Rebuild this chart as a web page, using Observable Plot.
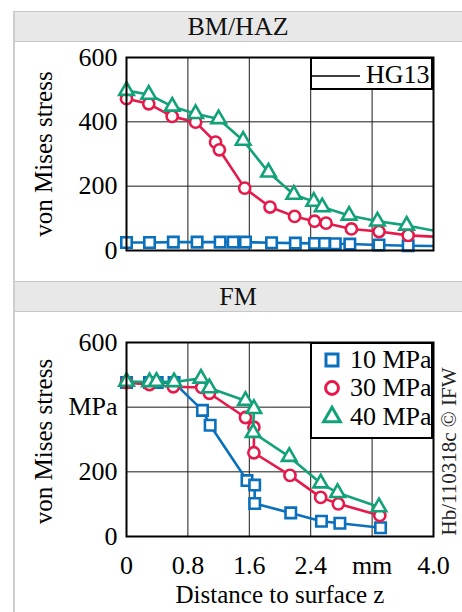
<!DOCTYPE html>
<html>
<head>
<meta charset="utf-8">
<script src="https://cdn.jsdelivr.net/npm/d3@7"></script>
<script src="https://cdn.jsdelivr.net/npm/@observablehq/plot@0.6"></script>
<style>
  html, body { margin: 0; padding: 0; background: white; }
  #page { position: relative; width: 462px; height: 612px; overflow: hidden; font-family: 'Liberation Serif', 'Times New Roman', serif; color: black; }
  .strip { position: absolute; left: 14px; right: 0; height: 29px; background: #e8e8e8; border-top: 1px solid #c8c8c8; border-bottom: 1px solid #c8c8c8; text-align: center; font-family: 'Liberation Serif', serif; font-size: 26px; line-height: 29px; color: #111; z-index: 2; }
  .vborder { position: absolute; left: 13px; width: 2px; top: 11px; bottom: 0; background: #cdcdcd; z-index: 3; }
  .plotbox { position: absolute; left: 0; width: 462px; z-index: 1; }
  .legend { position: absolute; border: 2px solid black; box-sizing: border-box; background: white; overflow: hidden; z-index: 4; font-family: 'Liberation Serif', serif; font-size: 26px; }
  .legend .row { position: absolute; left: 0; right: -40px; height: 28px; }
  .legend svg { position: absolute; overflow: visible; }
  .legend .lab { position: absolute; white-space: nowrap; line-height: 28px; font-family: 'Liberation Serif', serif; }
</style>
</head>
<body>
<div id="page">
  <div class="vborder"></div>
  <div class="strip" id="strip1" style="top:11px"></div>
  <div class="plotbox" id="plot1" style="top:42px"></div>
  <div class="strip" id="strip2" style="top:281px"></div>
  <div class="plotbox" id="plot2" style="top:312px"></div>
  <div class="legend" id="legend1" style="left:310px; top:57px; width:123px; height:33px"></div>
  <div class="legend" id="legend2" style="left:310px; top:342px; width:123px; height:97px"></div>
</div>
<script>
// ---------- data ----------
const panelTitles = ["BM/HAZ", "FM"];
const yLabel = "von Mises stress";
const xLabel = "Distance to surface z";
const sideNote = "Hb/110318c © IFW";
const topLegendLabel = "HG13";
const seriesNames = ["10 MPa", "30 MPa", "40 MPa"];
const xTicks = [0, 0.8, 1.6, 2.4, 3.2, 4.0];
const xTickLabels = ["0", "0.8", "1.6", "2.4", "mm", "4.0"];
const yTicks = [0, 200, 400, 600];
const yTickLabelsTop = ["0", "200", "400", "600"];
const yTickLabelsBottom = ["0", "200", "MPa", "600"];

// BM/HAZ panel
const top10x = [0, 0.3, 0.61, 0.92, 1.22, 1.39, 1.55, 1.89, 2.2, 2.45, 2.58, 2.72, 2.91, 3.29, 3.67];
const top10y = [25, 25, 26, 26, 26, 26, 26, 24, 23, 22, 22, 21, 20, 17, 15];
const top30x = [0, 0.29, 0.595, 0.9, 1.16, 1.21, 1.54, 1.87, 2.19, 2.45, 2.6, 2.93, 3.29, 3.67];
const top30y = [472, 456, 417, 399, 337, 313, 194, 135, 106, 91, 85, 67, 59, 47];
const top40x = [0, 0.29, 0.595, 0.9, 1.2, 1.52, 1.85, 2.18, 2.44, 2.55, 2.9, 3.27, 3.65];
const top40y = [497, 485, 448, 425, 409, 342, 243, 174, 152, 135, 109, 91, 78];
// value where each line meets the right edge (x = 4.0), no marker there
const topEdgeX = 4.0;
const topEdgeY = [14, 43, 62];

// FM panel
const bot10x = [0, 0.3, 0.4, 0.62, 0.99, 1.09, 1.57, 1.67, 1.67, 2.14, 2.54, 2.78, 3.31];
const bot10y = [476, 476, 476, 476, 390, 344, 173, 159, 102, 73, 47, 41, 27];
const bot30x = [0, 0.3, 0.61, 0.98, 1.08, 1.55, 1.66, 1.66, 2.13, 2.53, 2.76, 3.3];
const bot30y = [476, 470, 463, 461, 443, 368, 338, 259, 189, 121, 101, 65];
const bot40x = [0, 0.3, 0.39, 0.62, 0.97, 1.08, 1.55, 1.66, 1.65, 2.12, 2.53, 2.75, 3.29];
const bot40y = [479, 478, 479, 478, 489, 459, 420, 395, 321, 247, 165, 135, 91];

// ---------- styling ----------
const colors = ["#0a70bd", "#e5194a", "#12a27a"];
const symbols = ["square", "circle", "triangle"];
const radii = [5.9, 5.6, 5.4];
const fontFamily = "'Liberation Serif', 'Times New Roman', serif";

const pts = (xs, ys) => xs.map((x, i) => ({x, y: ys[i]}));

function seriesMarks(list) {
  const marks = [];
  list.forEach((s, i) => {
    marks.push(Plot.line(s.line, {x: "x", y: "y", stroke: colors[i], strokeWidth: 2.6, clip: true}));
    marks.push(Plot.dot(s.dots, {x: "x", y: "y", symbol: symbols[i], r: radii[i], stroke: colors[i], strokeWidth: 2.6, fill: "white"}));
  });
  return marks;
}

const gridMarks = [
  Plot.ruleX(xTicks.slice(1, -1), {stroke: "#1a1a1a", strokeWidth: 1}),
  Plot.ruleY(yTicks.slice(1, -1), {stroke: "#1a1a1a", strokeWidth: 1})
];

const baseStyle = {fontFamily, fontSize: "26px", background: "transparent", color: "black", overflow: "visible"};

// ---------- top panel ----------
const topSeries = [
  {line: pts([...top10x, topEdgeX], [...top10y, topEdgeY[0]]), dots: pts(top10x, top10y)},
  {line: pts([...top30x, topEdgeX], [...top30y, topEdgeY[1]]), dots: pts(top30x, top30y)},
  {line: pts([...top40x, topEdgeX], [...top40y, topEdgeY[2]]), dots: pts(top40x, top40y)}
];

const plot1 = Plot.plot({
  width: 462, height: 240,
  marginLeft: 126, marginRight: 29, marginTop: 15, marginBottom: 32,
  style: baseStyle,
  x: {domain: [0, 4], axis: null},
  y: {domain: [0, 600], ticks: yTicks, tickSize: 0, tickPadding: 9, label: null,
      tickFormat: d => yTickLabelsTop[yTicks.indexOf(d)]},
  marks: [
    ...gridMarks,
    ...seriesMarks(topSeries),
    Plot.frame({stroke: "black", strokeWidth: 2}),
    Plot.text([yLabel], {frameAnchor: "left", dx: -83, rotate: -90, fontSize: 25, textAnchor: "middle"})
  ]
});
document.getElementById("plot1").appendChild(plot1);

// ---------- bottom panel ----------
const botSeries = [
  {line: pts(bot10x, bot10y), dots: pts(bot10x, bot10y)},
  {line: pts(bot30x, bot30y), dots: pts(bot30x, bot30y)},
  {line: pts(bot40x, bot40y), dots: pts(bot40x, bot40y)}
];

const plot2 = Plot.plot({
  width: 462, height: 300,
  marginLeft: 126, marginRight: 29, marginTop: 30, marginBottom: 76,
  style: baseStyle,
  x: {domain: [0, 4], ticks: xTicks, tickSize: 0, tickPadding: 19, label: null,
      tickFormat: d => xTickLabels[xTicks.indexOf(d)]},
  y: {domain: [0, 600], ticks: yTicks, tickSize: 0, tickPadding: 9, label: null,
      tickFormat: d => yTickLabelsBottom[yTicks.indexOf(d)]},
  marks: [
    ...gridMarks,
    ...seriesMarks(botSeries),
    Plot.frame({stroke: "black", strokeWidth: 2}),
    Plot.text([yLabel], {frameAnchor: "left", dx: -83, dy: 2, rotate: -90, fontSize: 25, textAnchor: "middle"}),
    Plot.text([xLabel], {frameAnchor: "bottom", dy: 58, fontSize: 25, textAnchor: "middle", lineAnchor: "middle"}),
    Plot.text([sideNote], {frameAnchor: "right", dx: 16, dy: 12, rotate: -90, fontSize: 21, textAnchor: "middle", fill: "#222"})
  ]
});
document.getElementById("plot2").appendChild(plot2);

// ---------- strips ----------
document.getElementById("strip1").textContent = panelTitles[0];
document.getElementById("strip2").textContent = panelTitles[1];

// ---------- legends ----------
const lg1 = document.getElementById("legend1");
lg1.innerHTML = `<div class="row" style="top:1px">
  <svg width="60" height="28" style="left:0;top:0"><line x1="0" x2="48" y1="16" y2="16" stroke="black" stroke-width="1.3"/></svg>
  <span class="lab" style="left:54px;top:1px">${topLegendLabel}</span></div>`;

const lg2 = document.getElementById("legend2");
const rowTops = [2, 30, 59];
seriesNames.forEach((name, i) => {
  const path = d3.symbol(
    i === 0 ? d3.symbolSquare : i === 1 ? d3.symbolCircle : d3.symbolTriangle,
    Math.PI * (radii[i] * 1.15) ** 2
  )();
  const row = document.createElement("div");
  row.className = "row";
  row.style.top = rowTops[i] + "px";
  row.innerHTML = `<svg width="30" height="28" style="left:6px;top:0"><path d="${path}" transform="translate(14,14)" fill="white" stroke="${colors[i]}" stroke-width="3"/></svg>
    <span class="lab" style="left:38px;top:0">${name}</span>`;
  lg2.appendChild(row);
});
</script>
</body>
</html>
